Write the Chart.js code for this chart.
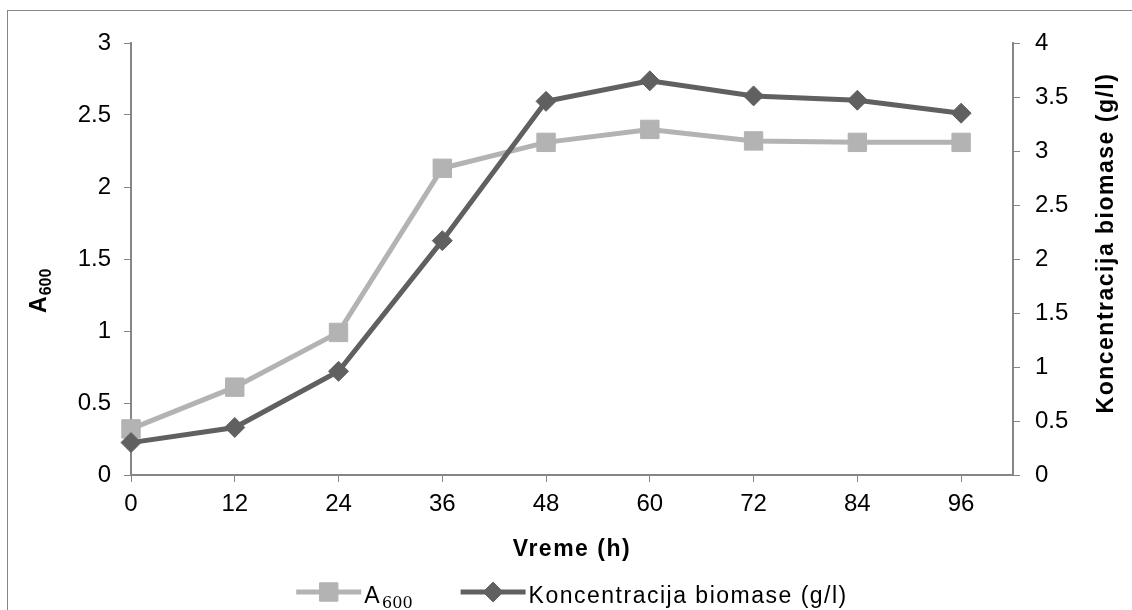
<!DOCTYPE html>
<html>
<head>
<meta charset="utf-8">
<script src="https://cdn.jsdelivr.net/npm/chart.js@4"></script>
<style>
  html, body { margin: 0; padding: 0; background: #fff; }
  #wrap { position: relative; width: 1132px; height: 610px; }
</style>
</head>
<body>
<div id="wrap"><canvas id="growthChart" width="1132" height="610"></canvas></div>
<script>
// time points (h) and measured values
var hours = [0, 12, 24, 36, 48, 60, 72, 84, 96];
var a600 = [0.32, 0.61, 0.99, 2.13, 2.31, 2.40, 2.32, 2.31, 2.31];
var biomass = [0.30, 0.44, 0.96, 2.17, 3.46, 3.65, 3.51, 3.47, 3.35];
var xTitle = 'Vreme (h)';
var rightTitle = 'Koncentracija biomase (g/l)';
var legendNames = ['A', 'Koncentracija biomase (g/l)'];

var axisColor = '#868686';
var lightGrey = '#b3b3b3';
var darkGrey = '#606060';
var fontFam = '"Liberation Sans", Arial, sans-serif';

function toPoints(ys) {
  return hours.map(function(h, i) { return { x: h, y: ys[i] }; });
}

// "A" followed by a 600 subscript, returns end x
function drawA600(ctx, x, y, size, bold, subFont, draw) {
  ctx.font = (bold ? 'bold ' : '') + size + 'px ' + fontFam;
  if (draw) ctx.fillText('A', x, y);
  var w = ctx.measureText('A').width;
  ctx.font = (bold ? 'bold ' : '') + Math.round(size * 0.7) + 'px ' + (subFont || fontFam);
  var save = ctx.letterSpacing;
  ctx.letterSpacing = '0px';
  if (draw) ctx.fillText('600', x + w + 1, y + size * 0.22);
  var end = x + w + 1 + ctx.measureText('600').width;
  ctx.letterSpacing = save;
  return end;
}

function tickText(value) {
  return String(Math.round(value * 10) / 10);
}

// axis titles, legend and frame
var extras = {
  id: 'extras',
  beforeDraw: function(chart) {
    var ctx = chart.ctx;
    ctx.save();
    ctx.strokeStyle = axisColor;
    ctx.lineWidth = 1;
    ctx.strokeRect(7.5, 10.5, 1300, 800);
    ctx.restore();
  },
  afterDraw: function(chart) {
    var ctx = chart.ctx;
    var area = chart.chartArea;
    var midX = (area.left + area.right) / 2;
    ctx.save();
    ctx.fillStyle = '#000';
    ctx.letterSpacing = '1.5px';

    // x title
    ctx.font = 'bold 23px ' + fontFam;
    ctx.textAlign = 'center';
    ctx.textBaseline = 'alphabetic';
    ctx.fillText(xTitle, midX, 556);

    // left title, rotated
    ctx.save();
    ctx.translate(46, 290);
    ctx.rotate(-Math.PI / 2);
    ctx.textAlign = 'left';
    var wL = drawA600(ctx, 0, 0, 23, true, null, false);
    drawA600(ctx, -wL / 2, 0, 23, true, null, true);
    ctx.restore();

    // right title, rotated
    ctx.save();
    ctx.translate(1113, 243);
    ctx.rotate(-Math.PI / 2);
    ctx.textAlign = 'center';
    ctx.font = 'bold 23px ' + fontFam;
    ctx.fillText(rightTitle, 0, 0);
    ctx.restore();

    // legend
    var sets = chart.data.datasets;
    var lineLen = 65, gap = 3, itemGap = 48;
    var serif = '"DejaVu Serif", serif';
    ctx.textAlign = 'left';
    ctx.textBaseline = 'alphabetic';
    var w1 = drawA600(ctx, 0, 0, 23, false, serif, false);
    ctx.font = '23px ' + fontFam;
    var w2 = ctx.measureText(legendNames[1]).width;
    var widths = [w1, w2];
    var total = lineLen + gap + w1 + itemGap + lineLen + gap + w2;
    var lx = midX - total / 2;
    var ly = 592;
    var textY = 603;
    for (var i = 0; i < sets.length; i++) {
      var ds = sets[i];
      ctx.strokeStyle = ds.borderColor;
      ctx.lineWidth = ds.borderWidth;
      ctx.beginPath();
      ctx.moveTo(lx, ly);
      ctx.lineTo(lx + lineLen, ly);
      ctx.stroke();
      ctx.lineWidth = 1;
      ctx.fillStyle = ds.pointBackgroundColor;
      Chart.helpers.drawPoint(ctx, {
        pointStyle: ds.pointStyle,
        radius: ds.pointRadius,
        borderWidth: 1,
        rotation: 0
      }, lx + lineLen / 2, ly);
      ctx.fillStyle = '#000';
      if (i === 0) {
        drawA600(ctx, lx + lineLen + gap, textY, 23, false, serif, true);
      } else {
        ctx.font = '23px ' + fontFam;
        ctx.fillText(legendNames[i], lx + lineLen + gap, textY);
      }
      lx += lineLen + gap + widths[i] + itemGap;
    }
    ctx.restore();
  }
};

var ctx = document.getElementById('growthChart').getContext('2d');
var growthChart = new Chart(ctx, {
  type: 'line',
  data: {
    datasets: [{
      label: 'A600',
      data: toPoints(a600),
      yAxisID: 'y',
      borderColor: lightGrey,
      backgroundColor: lightGrey,
      pointBackgroundColor: lightGrey,
      pointBorderColor: lightGrey,
      borderWidth: 5,
      pointStyle: 'rect',
      pointRadius: 13,
      pointBorderWidth: 1,
      clip: false,
      order: 2
    }, {
      label: 'Koncentracija biomase (g/l)',
      data: toPoints(biomass),
      yAxisID: 'y2',
      borderColor: darkGrey,
      backgroundColor: darkGrey,
      pointBackgroundColor: darkGrey,
      pointBorderColor: darkGrey,
      borderWidth: 5,
      pointStyle: 'rectRot',
      pointRadius: 10,
      pointBorderWidth: 1,
      clip: false,
      order: 1
    }]
  },
  options: {
    responsive: false,
    animation: false,
    layout: { padding: { top: 43, left: 0, right: 0, bottom: 0 } },
    plugins: {
      legend: { display: false },
      tooltip: { enabled: false }
    },
    scales: {
      x: {
        type: 'linear',
        min: 0,
        max: 102,
        afterBuildTicks: function(scale) {
          scale.ticks = hours.map(function(h) { return { value: h }; });
        },
        afterFit: function(scale) { scale.height = 135; },
        ticks: { stepSize: 12, color: '#000', padding: 8, font: { size: 24, family: fontFam }, maxRotation: 0, autoSkip: false, callback: tickText },
        grid: { drawOnChartArea: false, tickLength: 7, color: axisColor },
        border: { color: axisColor, width: 2 }
      },
      y: {
        position: 'left',
        min: 0,
        max: 3,
        afterFit: function(scale) { scale.width = 131; },
        ticks: { stepSize: 0.5, color: '#000', padding: 13, font: { size: 24, family: fontFam }, callback: tickText },
        grid: { drawOnChartArea: false, tickLength: 7, color: axisColor },
        border: { color: axisColor, width: 2 }
      },
      y2: {
        position: 'right',
        min: 0,
        max: 4,
        afterFit: function(scale) { scale.width = 119; },
        ticks: { stepSize: 0.5, color: '#000', padding: 15, font: { size: 24, family: fontFam }, callback: tickText },
        grid: { drawOnChartArea: false, tickLength: 7, color: axisColor },
        border: { color: axisColor, width: 2 }
      }
    }
  },
  plugins: [extras]
});
</script>
</body>
</html>
